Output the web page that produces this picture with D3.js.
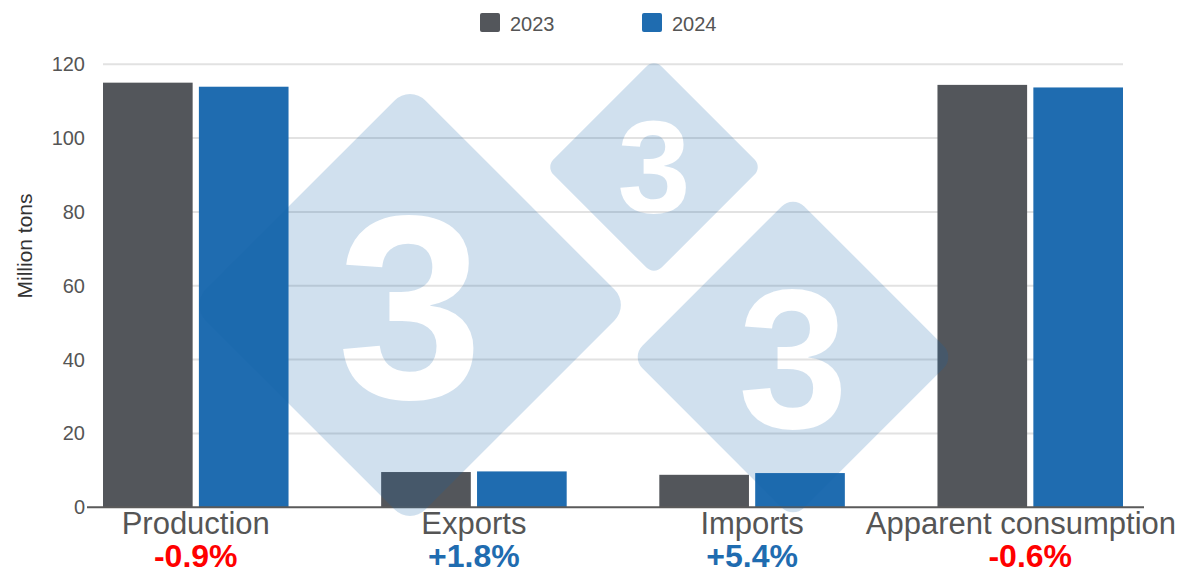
<!DOCTYPE html>
<html>
<head>
<meta charset="utf-8">
<script src="https://cdn.jsdelivr.net/npm/d3@7"></script>
<style>
  html, body { margin: 0; padding: 0; background: #ffffff; }
  svg { display: block; font-family: "Liberation Sans", Arial, Helvetica, sans-serif; }
</style>
</head>
<body>
<svg id="chart" width="1184" height="574"></svg>
<script>
// ---- data ----
const categories = ["Production", "Exports", "Imports", "Apparent consumption"];
const years = ["2023", "2024"];
const values2023 = [115.0, 9.55, 8.8, 114.4];
const values2024 = [113.9, 9.72, 9.27, 113.7];
const changeLabels = ["-0.9%", "+1.8%", "+5.4%", "-0.6%"];
const yTicks = [0, 20, 40, 60, 80, 100, 120];
const yTitle = "Million tons";

// ---- drawing ----
const W = 1184, H = 574;
const svg = d3.select("#chart");
const colors = { "2023": "#53565b", "2024": "#1f6cb0" };
const textGray = "#555555";

const plotLeft = 103, plotRight = 1123;
const y = d3.scaleLinear().domain([0, 120]).range([507.3, 64.2]);
const x0 = d3.scaleBand().domain(categories).range([plotLeft, plotRight]).paddingInner(0.333).paddingOuter(0);
const x1 = d3.scaleBand().domain(years).range([0, x0.bandwidth()]).paddingInner(0.065);

const series = { "2023": values2023, "2024": values2024 };

// gridlines
svg.append("g").selectAll("line")
  .data(yTicks.filter(t => t !== 0))
  .join("line")
  .attr("x1", plotLeft).attr("x2", plotRight)
  .attr("y1", d => y(d)).attr("y2", d => y(d))
  .attr("stroke", "#e2e2e2").attr("stroke-width", 2);

// y axis labels
const yAxis = d3.axisLeft(y).tickValues(yTicks).tickSize(0).tickPadding(18).tickFormat(d3.format("d"));
const gy = svg.append("g").attr("transform", `translate(${plotLeft},0)`).call(yAxis);
gy.select(".domain").remove();
gy.selectAll("text").attr("fill", textGray).attr("font-size", 20)
  .attr("font-family", "'Liberation Sans', Arial, sans-serif");

// y title
svg.append("text")
  .attr("transform", `translate(32,${(192 + 300) / 2}) rotate(-90)`)
  .attr("text-anchor", "middle")
  .attr("font-size", 21)
  .attr("fill", "#333333")
  .text(yTitle);

// bars
const rows = categories.map((c, i) => ({ c, i }));
const groups = svg.append("g").selectAll("g")
  .data(rows).join("g")
  .attr("transform", d => `translate(${x0(d.c)},0)`);
groups.selectAll("rect")
  .data(d => years.map(yr => ({ yr, v: series[yr][d.i] })))
  .join("rect")
  .attr("x", d => x1(d.yr))
  .attr("width", x1.bandwidth())
  .attr("y", d => y(d.v))
  .attr("height", d => y(0) - y(d.v))
  .attr("fill", d => colors[d.yr]);

// baseline axis line
svg.append("line")
  .attr("x1", 87).attr("x2", 1144)
  .attr("y1", y(0)).attr("y2", y(0))
  .attr("stroke", "#5a5a5a").attr("stroke-width", 2);

// watermark (decorative logo): three rounded diamonds with "3" cut out
const logo = [
  { cx: 410, cy: 305, L: 311, fs: 262, base: 398 },
  { cx: 654, cy: 167, L: 153, fs: 132, base: 213 },
  { cx: 793, cy: 357, L: 229, fs: 198, base: 428 }
];
const defs = svg.append("defs");
const mask = defs.append("mask").attr("id", "logoMask").attr("maskUnits", "userSpaceOnUse")
  .attr("x", 0).attr("y", 0).attr("width", W).attr("height", H);
mask.append("rect").attr("width", W).attr("height", H).attr("fill", "black");
logo.forEach(d => {
  mask.append("rect")
    .attr("x", d.cx - d.L / 2).attr("y", d.cy - d.L / 2)
    .attr("width", d.L).attr("height", d.L)
    .attr("rx", d.L * 0.07)
    .attr("transform", `rotate(45,${d.cx},${d.cy})`)
    .attr("fill", "white");
  mask.append("text")
    .attr("x", d.cx).attr("y", d.base)
    .attr("text-anchor", "middle")
    .attr("font-size", d.fs).attr("font-weight", "bold")
    .attr("font-family", "'Liberation Sans', Arial, sans-serif")
    .attr("fill", "black").text("3");
});
svg.append("rect")
  .attr("width", W).attr("height", H)
  .attr("fill", "#1366ab").attr("fill-opacity", 0.2)
  .attr("mask", "url(#logoMask)");

// category labels
const catText = svg.append("g").selectAll("text")
  .data(categories).join("text")
  .attr("x", d => x0(d) + x0.bandwidth() / 2)
  .attr("y", 534)
  .attr("text-anchor", "middle")
  .attr("font-size", 31)
  .attr("fill", textGray)
  .text(d => d);
catText.each(function() {
  const w = this.getComputedTextLength();
  const cx = +this.getAttribute("x");
  if (cx + w / 2 > W - 8) this.setAttribute("x", W - 8 - w / 2);
});

// change labels
svg.append("g").selectAll("text")
  .data(changeLabels).join("text")
  .attr("x", (d, i) => x0(categories[i]) + x0.bandwidth() / 2)
  .attr("y", 567)
  .attr("text-anchor", "middle")
  .attr("font-size", 32)
  .attr("font-weight", "bold")
  .attr("fill", d => d.startsWith("-") ? "#ff0000" : "#1f6cb0")
  .text(d => d);

// legend
const legendX = [480, 642];
const lg = svg.append("g").selectAll("g").data(years).join("g")
  .attr("transform", (d, i) => `translate(${legendX[i]},13)`);
lg.append("rect").attr("width", 20).attr("height", 19).attr("rx", 2)
  .attr("fill", d => colors[d]);
lg.append("text").attr("x", 30).attr("y", 18).attr("font-size", 20)
  .attr("fill", textGray).text(d => d);
</script>
</body>
</html>
